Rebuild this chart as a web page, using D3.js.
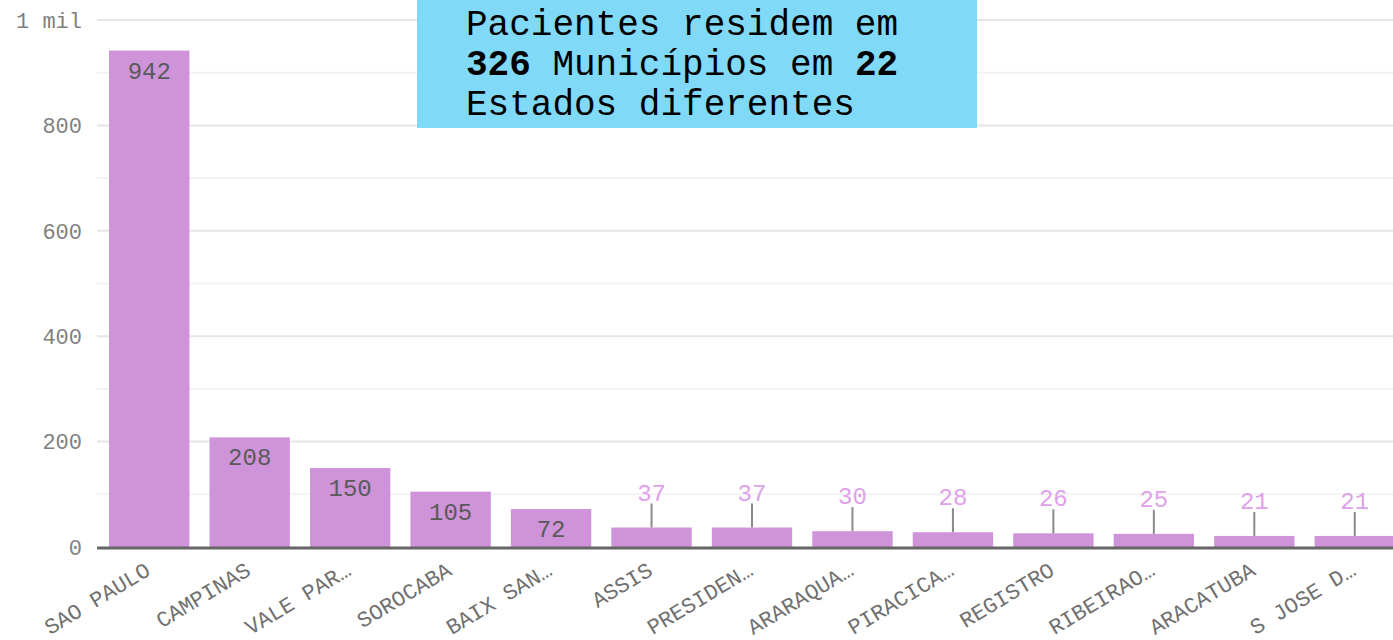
<!DOCTYPE html>
<html>
<head>
<meta charset="utf-8">
<script src="https://cdn.jsdelivr.net/npm/d3@7"></script>
<style>
  body { margin: 0; background: #fff; }
  svg { display: block; font-family: "Liberation Mono", "Courier New", monospace; }
</style>
</head>
<body>
<div id="chart"></div>
<script>
const regions = ["SAO PAULO", "CAMPINAS", "VALE PAR…", "SOROCABA", "BAIX SAN…", "ASSIS",
  "PRESIDEN…", "ARARAQUA…", "PIRACICA…", "REGISTRO", "RIBEIRAO…", "ARACATUBA", "S JOSE D…"];
const patients = [942, 208, 150, 105, 72, 37, 37, 30, 28, 26, 25, 21, 21];
const majorTicks = [0, 200, 400, 600, 800, 1000];
const minorTicks = [100, 300, 500, 700, 900];
const noteLines = [
  [{ t: "Pacientes residem em", b: false }],
  [{ t: "326", b: true }, { t: " Municípios em ", b: false }, { t: "22", b: true }],
  [{ t: "Estados diferentes", b: false }]
];

const width = 1393, height = 640;
const svg = d3.select("#chart").append("svg")
  .attr("width", width)
  .attr("height", height);

const x = d3.scaleBand()
  .domain(regions)
  .range([97, 1407])
  .paddingInner(0.2)
  .paddingOuter(0.12);

const y = d3.scaleLinear()
  .domain([0, 1000])
  .range([547, 20]);

// linhas de grade
svg.append("g").selectAll("line")
  .data(minorTicks)
  .join("line")
  .attr("x1", 97).attr("x2", width)
  .attr("y1", d => y(d)).attr("y2", d => y(d))
  .attr("stroke", "#f3f3f3").attr("stroke-width", 2);

svg.append("g").selectAll("line")
  .data(majorTicks.filter(d => d > 0))
  .join("line")
  .attr("x1", 97).attr("x2", width)
  .attr("y1", d => y(d)).attr("y2", d => y(d))
  .attr("stroke", "#e6e6e6").attr("stroke-width", 2);

// eixo y
svg.append("g").selectAll("text")
  .data(majorTicks)
  .join("text")
  .attr("x", 82)
  .attr("y", d => y(d))
  .attr("dy", "0.35em")
  .attr("text-anchor", "end")
  .attr("font-size", 22)
  .attr("fill", "#808080")
  .text(d => d === 1000 ? "1 mil" : d);

// barras
svg.append("g").selectAll("rect")
  .data(patients)
  .join("rect")
  .attr("x", (d, i) => x(regions[i]))
  .attr("y", d => y(d))
  .attr("width", x.bandwidth())
  .attr("height", d => y(0) - y(d))
  .attr("fill", "#ce93d8");

// rótulos
const inside = d => y(0) - y(d) > 30;
const labels = svg.append("g");
patients.forEach((d, i) => {
  const cx = x(regions[i]) + x.bandwidth() / 2;
  if (inside(d)) {
    labels.append("text")
      .attr("x", cx).attr("y", y(d) + 28)
      .attr("text-anchor", "middle")
      .attr("font-size", 24)
      .attr("fill", "#5a5a5a")
      .text(d);
  } else {
    labels.append("line")
      .attr("x1", cx).attr("x2", cx)
      .attr("y1", y(d)).attr("y2", y(d) - 24)
      .attr("stroke", "#8a8a8a").attr("stroke-width", 2);
    labels.append("text")
      .attr("x", cx).attr("y", y(d) - 27)
      .attr("text-anchor", "middle")
      .attr("font-size", 24)
      .attr("fill", "#dea1ea")
      .text(d);
  }
});

// linha base
svg.append("line")
  .attr("x1", 97).attr("x2", width)
  .attr("y1", y(0) + 1).attr("y2", y(0) + 1)
  .attr("stroke", "#666").attr("stroke-width", 3);

// eixo x
svg.append("g").selectAll("text")
  .data(regions)
  .join("text")
  .attr("transform", d => `translate(${x(d) + x.bandwidth() / 2 - 6},${y(0) + 13}) rotate(-31)`)
  .attr("text-anchor", "end")
  .attr("dy", "0.75em")
  .attr("font-size", 22)
  .attr("fill", "#707070")
  .text(d => d);

// anotação
const note = svg.append("g");
note.append("rect")
  .attr("x", 417).attr("y", 0)
  .attr("width", 560).attr("height", 128)
  .attr("fill", "#80d9f7");
noteLines.forEach((parts, i) => {
  const t = note.append("text")
    .attr("x", 466)
    .attr("y", 35 + i * 40)
    .attr("font-size", 36)
    .attr("fill", "#000")
    .attr("xml:space", "preserve")
    .style("white-space", "pre");
  parts.forEach(p => {
    t.append("tspan")
      .attr("font-weight", p.b ? "bold" : "normal")
      .text(p.t);
  });
});
</script>
</body>
</html>
